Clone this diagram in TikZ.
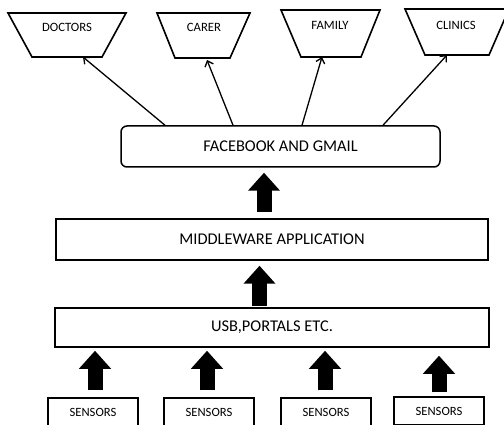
\documentclass[tikz,border=0pt]{standalone}
\usepackage{fontspec}
\setmainfont{Carlito}
\usetikzlibrary{arrows.meta}
\begin{document}
\begin{tikzpicture}[x=1pt,y=-1pt,
  trapline/.style={draw, line width=1.6pt, line join=miter},
  lab/.style={inner sep=0pt, font=\fontsize{12.7}{14}\selectfont},
  box/.style={draw, line width=1.5pt, inner sep=0pt, font=\fontsize{16.4}{18}\selectfont},
  sens/.style={draw, line width=1.5pt, inner sep=0pt, minimum width=90pt, minimum height=28pt, font=\fontsize{12.6}{14}\selectfont},
  link/.style={line width=1.3pt, -{Straight Barb[length=5pt,width=9pt]}},
  fat/.style={line width=15pt, -{Triangle[width=31pt,length=18pt]}},
]
\useasboundingbox (0,0) rectangle (504,425);
\clip (0,0) rectangle (504,425);

% top trapezoids
\draw[trapline] (8,13) -- (126,13) -- (102,57) -- (32,57) -- cycle;
\node[lab] (doc) at (67,27) {DOCTORS};
\coordinate (docb) at (67,57);
\draw[trapline] (157,13) -- (250,13) -- (230,58) -- (175,58) -- cycle;
\node[lab] (car) at (204,27) {CARER};
\coordinate (carb) at (202.5,58);
\draw[trapline] (281,10) -- (380,10) -- (361,57) -- (301,57) -- cycle;
\node[lab] (fam) at (330,25) {FAMILY};
\coordinate (famb) at (331,57);
\draw[trapline] (405,9) -- (509,9) -- (489,55) -- (425,55) -- cycle;
\node[lab] (cli) at (456,25) {CLINICS};
\coordinate (clib) at (457,55);

% main boxes
\node[box, rounded corners=6pt, minimum width=319pt, minimum height=41pt] (fb) at (280.5,146.5) {FACEBOOK AND GMAIL};
\node[box, minimum width=432pt, minimum height=41pt] (mid) at (272,239.5) {MIDDLEWARE APPLICATION};
\node[box, minimum width=434pt, minimum height=39pt] (usb) at (272,327.5) {USB,PORTALS ETC.};

% sensors
\node[sens] (s1) at (93,412) {SENSORS};
\node[sens] (s2) at (209,412) {SENSORS};
\node[sens] (s3) at (326,412) {SENSORS};
\node[sens] (s4) at (439,411) {SENSORS};

% thin arrows
\draw[link] ([xshift=-115.5pt]fb.north) -- ([xshift=16pt]docb);
\draw[link] ([xshift=-47.5pt]fb.north) -- ([xshift=4.5pt,yshift=-2pt]carb);
\draw[link] ([xshift=21.5pt]fb.north) -- ([xshift=-9pt]famb);
\draw[link] ([xshift=102.5pt]fb.north) -- ([xshift=-10pt]clib);

% thick arrows
\draw[fat, shorten <=6pt, shorten >=5pt] ([xshift=-8pt]mid.north) -- ([xshift=-8pt]mid.north |- fb.south);
\draw[fat, shorten <=1pt, shorten >=5pt] ([xshift=-12.5pt]usb.north) -- ([xshift=-12.5pt]usb.north |- mid.south);
\draw[fat, shorten <=7pt, shorten >=3pt] ([xshift=2pt]s1.north) -- ([xshift=2pt]s1.north |- usb.south);
\draw[fat, shorten <=7pt, shorten >=3pt] ([xshift=-2pt]s2.north) -- ([xshift=-2pt]s2.north |- usb.south);
\draw[fat, shorten <=7pt, shorten >=3pt] ([xshift=-1pt]s3.north) -- ([xshift=-1pt]s3.north |- usb.south);
\draw[fat, shorten <=4pt, shorten >=8pt] (s4.north) -- (s4.north |- usb.south);
\end{tikzpicture}
\end{document}
